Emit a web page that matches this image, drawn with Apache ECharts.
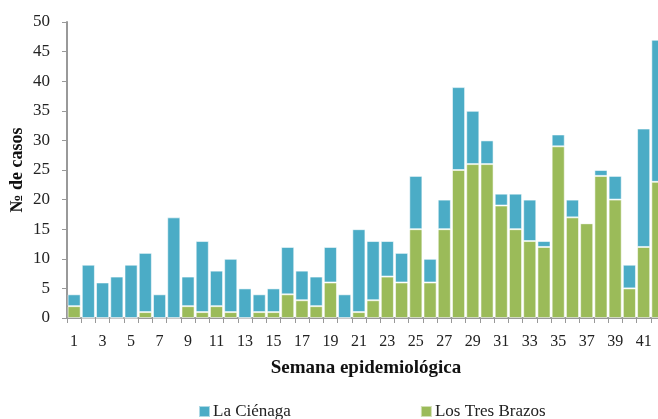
<!DOCTYPE html>
<html>
<head>
<meta charset="utf-8">
<script src="https://cdn.jsdelivr.net/npm/echarts@6/dist/echarts.min.js"></script>
<style>
  html, body { margin: 0; padding: 0; background: #fff; }
  #chart { width: 658px; height: 419px; }
</style>
</head>
<body>
<div id="chart"></div>
<script>
// semanas 1..42
const semanas = [];
for (let i = 1; i <= 42; i++) semanas.push(String(i));

// casos por semana
const tresBrazos = [2, 0, 0, 0, 0, 1, 0, 0, 2, 1, 2, 1, 0, 1, 1, 4, 3, 2, 6, 0, 1,
  3, 7, 6, 15, 6, 15, 25, 26, 26, 19, 15, 13, 12, 29, 17, 16, 24, 20, 5, 12, 23];
const cienaga = [2, 9, 6, 7, 9, 10, 4, 17, 5, 12, 6, 9, 5, 3, 4, 8, 5, 5, 6, 4, 14,
  10, 6, 5, 9, 4, 5, 14, 9, 4, 2, 6, 7, 1, 2, 3, 0, 1, 4, 4, 20, 24];

const serif = 'Liberation Serif';
const chart = echarts.init(document.getElementById('chart'));

chart.setOption({
  animation: false,
  textStyle: { fontFamily: serif },
  grid: { left: 67, right: -7, top: 22, bottom: 101, outerBoundsMode: 'none', containLabel: false },
  legend: {
    data: ['La Ciénaga', 'Los Tres Brazos'],
    left: 193,
    top: 398,
    itemWidth: 11,
    itemHeight: 11,
    itemGap: 129,
    icon: 'rect',
    textStyle: { fontFamily: serif, fontSize: 17, color: '#222', padding: [0, 0, 0, -2] }
  },
  xAxis: {
    type: 'category',
    data: semanas,
    name: 'Semana epidemiológica',
    nameLocation: 'middle',
    nameGap: 41,
    nameTextStyle: { fontFamily: serif, fontSize: 19, fontWeight: 'bold', color: '#111' },
    axisLine: { lineStyle: { color: '#999', width: 2 } },
    axisTick: { show: true, alignWithLabel: false, interval: 0, length: 5, lineStyle: { color: '#999' } },
    axisLabel: { interval: 1, fontSize: 16, color: '#222', margin: 16 }
  },
  yAxis: {
    type: 'value',
    min: 0,
    max: 50,
    interval: 5,
    name: '№ de casos',
    nameLocation: 'middle',
    nameGap: 41,
    nameMoveOverlap: false,
    nameTextStyle: { fontFamily: serif, fontSize: 18, fontWeight: 'bold', color: '#111' },
    axisLine: { show: true, lineStyle: { color: '#999', width: 2 } },
    axisTick: { show: true, length: 5, lineStyle: { color: '#999' } },
    axisLabel: { fontSize: 17, color: '#222', margin: 17 },
    splitLine: { show: false }
  },
  series: [
    {
      name: 'Los Tres Brazos',
      type: 'bar',
      stack: 'total',
      data: tresBrazos,
      barCategoryGap: '8%',
      itemStyle: { color: '#9bbb59', borderColor: 'rgba(255,255,255,0.55)', borderWidth: 1 }
    },
    {
      name: 'La Ciénaga',
      type: 'bar',
      stack: 'total',
      data: cienaga,
      barCategoryGap: '8%',
      itemStyle: { color: '#4bacc6', borderColor: 'rgba(255,255,255,0.55)', borderWidth: 1 }
    }
  ]
});
</script>
</body>
</html>
